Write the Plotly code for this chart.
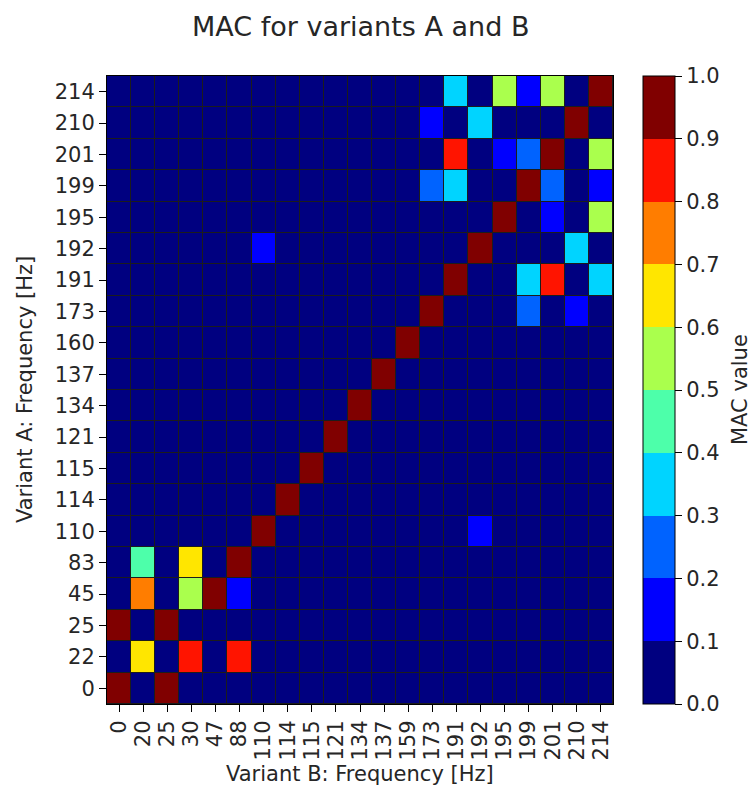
import plotly.graph_objects as go

x_labels = ["0", "20", "25", "30", "47", "88", "110", "114", "115", "121", "134",
            "137", "159", "173", "191", "192", "195", "199", "201", "210", "214"]
y_labels = ["0", "22", "25", "45", "83", "110", "114", "115", "121", "134",
            "137", "160", "173", "191", "192", "195", "199", "201", "210", "214"]

# MAC values, rows bottom (0 Hz) to top (214 Hz), columns follow x_labels
mac = [
    [.95, 0, .95, 0, 0, 0, 0, 0, 0, 0, 0, 0, 0, 0, 0, 0, 0, 0, 0, 0, 0],      # 0
    [0, .65, 0, .85, 0, .85, 0, 0, 0, 0, 0, 0, 0, 0, 0, 0, 0, 0, 0, 0, 0],    # 22
    [.95, 0, .95, 0, 0, 0, 0, 0, 0, 0, 0, 0, 0, 0, 0, 0, 0, 0, 0, 0, 0],      # 25
    [0, .75, 0, .55, .95, .15, 0, 0, 0, 0, 0, 0, 0, 0, 0, 0, 0, 0, 0, 0, 0],  # 45
    [0, .45, 0, .65, 0, .95, 0, 0, 0, 0, 0, 0, 0, 0, 0, 0, 0, 0, 0, 0, 0],    # 83
    [0, 0, 0, 0, 0, 0, .95, 0, 0, 0, 0, 0, 0, 0, 0, .15, 0, 0, 0, 0, 0],      # 110
    [0, 0, 0, 0, 0, 0, 0, .95, 0, 0, 0, 0, 0, 0, 0, 0, 0, 0, 0, 0, 0],        # 114
    [0, 0, 0, 0, 0, 0, 0, 0, .95, 0, 0, 0, 0, 0, 0, 0, 0, 0, 0, 0, 0],        # 115
    [0, 0, 0, 0, 0, 0, 0, 0, 0, .95, 0, 0, 0, 0, 0, 0, 0, 0, 0, 0, 0],        # 121
    [0, 0, 0, 0, 0, 0, 0, 0, 0, 0, .95, 0, 0, 0, 0, 0, 0, 0, 0, 0, 0],        # 134
    [0, 0, 0, 0, 0, 0, 0, 0, 0, 0, 0, .95, 0, 0, 0, 0, 0, 0, 0, 0, 0],        # 137
    [0, 0, 0, 0, 0, 0, 0, 0, 0, 0, 0, 0, .95, 0, 0, 0, 0, 0, 0, 0, 0],        # 160
    [0, 0, 0, 0, 0, 0, 0, 0, 0, 0, 0, 0, 0, .95, 0, 0, 0, .25, 0, .15, 0],    # 173
    [0, 0, 0, 0, 0, 0, 0, 0, 0, 0, 0, 0, 0, 0, .95, 0, 0, .35, .85, 0, .35],  # 191
    [0, 0, 0, 0, 0, 0, .15, 0, 0, 0, 0, 0, 0, 0, 0, .95, 0, 0, 0, .35, 0],    # 192
    [0, 0, 0, 0, 0, 0, 0, 0, 0, 0, 0, 0, 0, 0, 0, 0, .95, 0, .15, 0, .55],    # 195
    [0, 0, 0, 0, 0, 0, 0, 0, 0, 0, 0, 0, 0, .25, .35, 0, 0, .95, .25, 0, .15],  # 199
    [0, 0, 0, 0, 0, 0, 0, 0, 0, 0, 0, 0, 0, 0, .85, 0, .15, .25, .95, 0, .55],  # 201
    [0, 0, 0, 0, 0, 0, 0, 0, 0, 0, 0, 0, 0, .15, 0, .35, 0, 0, 0, .95, 0],    # 210
    [0, 0, 0, 0, 0, 0, 0, 0, 0, 0, 0, 0, 0, 0, .35, 0, .55, .15, .55, 0, .95],  # 214
]

jet10 = ["#000080", "#0000ff", "#0063ff", "#00d4ff", "#4dffaa",
         "#aaff4d", "#ffe600", "#ff7d00", "#ff1400", "#800000"]
colorscale = []
for i, c in enumerate(jet10):
    colorscale.append([i / 10, c])
    colorscale.append([(i + 1) / 10, c])

FONT = "DejaVu Sans"
TICK = 21
TITLE = 27
TXT = "#262626"

fig = go.Figure(go.Heatmap(
    z=mac, x=x_labels, y=y_labels,
    colorscale=colorscale, zmin=0, zmax=1,
    xgap=1, ygap=1,
    colorbar=dict(
        x=1.0593, xanchor="left", xpad=0, y=0.5, yanchor="middle", len=1.0,
        lenmode="fraction", ypad=0, thickness=32, thicknessmode="pixels",
        outlinewidth=1, outlinecolor="black",
        tickmode="array", tickvals=[i / 10 for i in range(11)],
        ticktext=[f"{i/10:.1f}" for i in range(11)],
        ticks="outside", ticklen=7, tickcolor="black",
        tickfont=dict(family=FONT, size=TICK, color=TXT),
    ),
))

fig.update_layout(
    width=754, height=796,
    margin=dict(l=107, r=141, t=76, b=92, autoexpand=False),
    paper_bgcolor="white", plot_bgcolor="#1c1c1c",
    font=dict(family=FONT, size=TICK, color=TXT),
    xaxis=dict(
        type="category", tickangle=-90, ticks="outside", ticklen=7,
        tickmode="array", tickvals=x_labels, ticktext=x_labels,
        tickcolor="black", showline=True, linecolor="black", mirror=True,
        linewidth=1, showgrid=False, zeroline=False, automargin=False,
        tickfont=dict(family=FONT, size=TICK, color=TXT),
    ),
    yaxis=dict(
        type="category", ticks="outside", ticklen=7,
        tickmode="array", tickvals=y_labels, ticktext=y_labels,
        tickcolor="black", showline=True, linecolor="black", mirror=True,
        linewidth=1, showgrid=False, zeroline=False, automargin=False,
        tickfont=dict(family=FONT, size=TICK, color=TXT),
    ),
    annotations=[
        dict(text="MAC for variants A and B", xref="paper", yref="paper",
             x=0.5, y=1.0 + 49 / 628, xanchor="center", yanchor="middle",
             showarrow=False, font=dict(family=FONT, size=TITLE, color=TXT)),
        dict(text="Variant B: Frequency [Hz]", xref="paper", yref="paper",
             x=0.5, y=-70 / 628, xanchor="center", yanchor="middle",
             showarrow=False, font=dict(family=FONT, size=TICK, color=TXT)),
        dict(text="Variant A: Frequency [Hz]", xref="paper", yref="paper",
             x=-82 / 506, y=0.5, xanchor="center", yanchor="middle",
             textangle=-90, showarrow=False,
             font=dict(family=FONT, size=TICK, color=TXT)),
        dict(text="MAC value", xref="paper", yref="paper",
             x=633 / 506, y=0.5, xanchor="center", yanchor="middle",
             textangle=-90, showarrow=False,
             font=dict(family=FONT, size=TICK, color=TXT)),
    ],
)

fig.write_html("out.html",
               config={"displayModeBar": False},
               post_script="document.body.style.margin='0';document.body.style.padding='0';")
